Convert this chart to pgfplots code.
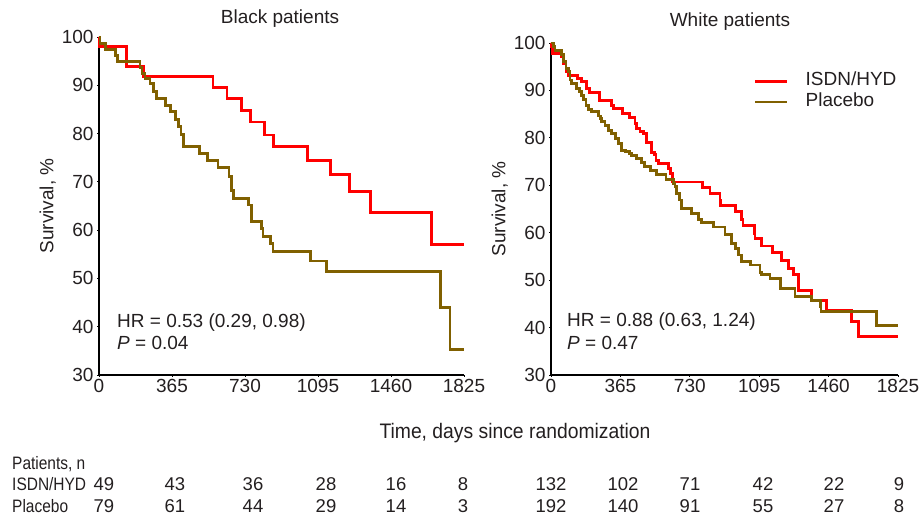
\documentclass[border=0pt]{standalone}
\usepackage{fontspec}
\setmainfont{Liberation Sans}
\newfontfamily\narrowfont[FakeStretch=0.86]{Liberation Sans}
\newfontfamily\timefont[FakeStretch=0.92]{Liberation Sans}
\usepackage{pgfplots}
\pgfplotsset{compat=1.18}
\definecolor{isdn}{RGB}{255,0,0}
\definecolor{plac}{RGB}{128,96,0}
\definecolor{txt}{RGB}{35,31,32}
\newcommand{\mf}{\fontsize{19}{22}\selectfont}

\pgfplotstableread{
d v
0 100
3 98.0
138 93.9
221 91.8
570 89.6
640 87.2
712 84.8
758 82.4
828 79.7
873 77.3
1044 74.5
1156 71.6
1252 68.0
1357 63.7
1663 57.1
1825 57.1
}\blackisdn

\pgfplotstableread{
d v
0 100
5 98.7
33 97.5
83 96.2
93 94.9
205 93.7
215 92.4
230 91.4
255 90.4
271 88.7
288 87.3
333 85.9
359 84.5
383 83.0
399 81.4
410 79.9
421 77.3
504 75.9
542 74.5
595 73.0
650 71.1
662 68.3
674 66.6
749 65.2
762 61.8
812 60.4
820 58.7
858 57.3
870 55.5
1056 53.6
1136 51.4
1707 44.0
1755 35.3
1825 35.3
}\blackplac

\pgfplotstableread{
d v
0 100
3 99.2
6 98.5
9 97.8
56 97.1
68 95.7
79 93.9
91 93.2
139 92.5
161 91.8
188 90.4
202 89.5
254 87.8
319 86.9
331 86.2
377 85.2
412 84.3
442 83.1
451 82.0
468 81.4
486 80.9
500 79.0
530 77.0
542 76.4
552 75.3
565 74.6
617 73.5
630 72.5
638 70.7
798 69.5
836 68.3
889 66.7
893 65.8
968 64.4
1003 62.7
1010 61.6
1068 59.9
1073 58.8
1108 57.2
1166 55.8
1213 54.2
1248 52.5
1275 51.1
1301 47.9
1371 45.8
1450 43.7
1581 41.2
1616 38.1
1825 38.1
}\whiteisdn

\pgfplotstableread{
d v
0 100
12 99.3
21 98.5
56 97.5
68 96.1
79 94.7
91 93.9
100 92.2
109 91.5
135 90.4
149 89.7
161 89.0
170 88.0
184 86.9
196 86.0
214 85.5
249 84.6
258 84.1
267 83.4
284 82.7
302 81.6
319 80.9
337 79.9
354 78.8
372 77.4
394 77.1
412 76.7
424 76.2
451 75.7
477 74.8
494 73.9
521 73.2
556 72.2
605 71.2
643 70.4
652 69.7
661 68.3
675 66.9
687 65.1
740 64.1
775 62.7
793 62.2
854 61.2
915 59.7
950 57.7
968 56.6
985 55.3
1003 54.0
1047 53.2
1099 51.7
1108 51.1
1152 50.4
1208 48.2
1283 46.5
1371 45.8
1415 44.4
1420 43.3
1713 40.5
1825 40.5
}\whiteplac

\pgfplotsset{kmaxis/.style={
  scale only axis, xmin=0, xmax=1825, ymin=30, ymax=100,
  axis lines=left, axis line style={-, line width=1.5pt, black},
  xtick={0,365,730,1095,1460,1825}, ytick={30,40,...,100},
  tick align=outside, major tick length=2pt,
  tick style={line width=0.8pt, black},
  ticklabel style={font=\mf, text=txt},
  xticklabel style={yshift=1pt},
  /pgf/number format/assume math mode=true,
  /pgf/number format/1000 sep={},
  ylabel={Survival, \%},
  ylabel style={font=\mf, text=txt, yshift=-1pt},
  clip=false,
  anchor=south west,
}}

\begin{document}
\begin{tikzpicture}[x=1pt,y=1pt]
\useasboundingbox (0,0) rectangle (921,519);

\begin{axis}[kmaxis, at={(99pt,144pt)}, width=365pt, height=338pt]
\addplot[const plot, color=isdn, line width=2.9pt] table[x=d,y=v] {\blackisdn};
\addplot[const plot, color=plac, line width=2.9pt] table[x=d,y=v] {\blackplac};
\end{axis}

\begin{axis}[kmaxis, at={(551pt,144pt)}, width=347pt, height=332pt,
  legend style={at={(rel axis cs:0.575,0.925)}, anchor=north west, draw=none, fill=none,
    font=\mf, text=txt, row sep=1pt,
    /tikz/every odd column/.append style={column sep=15pt}},
  legend cell align=left,
  legend image code/.code={\draw[#1] (0pt,-2pt) -- (32pt,-2pt);}]
\addplot[const plot, color=isdn, line width=2.9pt] table[x=d,y=v] {\whiteisdn};
\addlegendentry{ISDN/HYD}
\addplot[const plot, color=plac, line width=2.9pt] table[x=d,y=v] {\whiteplac};
\addlegendentry{Placebo}
\end{axis}

% titles
\node[font=\mf, text=txt] at (280,500) {Black patients};
\node[font=\mf, text=txt] at (730,497) {White patients};

% HR annotations
\node[font=\mf, text=txt, anchor=west, inner sep=0pt] at (117,196) {HR = 0.53 (0.29, 0.98)};
\node[font=\mf, text=txt, anchor=west, inner sep=0pt] at (117,176) {\textit{P} = 0.04};
\node[font=\mf, text=txt, anchor=west, inner sep=0pt] at (567,197) {HR = 0.88 (0.63, 1.24)};
\node[font=\mf, text=txt, anchor=west, inner sep=0pt] at (567,176) {\textit{P} = 0.47};

% x label
\node[font=\timefont\fontsize{21}{24}\selectfont, text=txt] at (515,86) {Time, days since randomization};

% at-risk table
\begin{scope}[every node/.style={font=\narrowfont\fontsize{18}{20}\selectfont, text=txt, inner sep=0pt}]
\node[anchor=west] at (12,55) {Patients, n};
\node[anchor=west] at (12,35) {ISDN/HYD};
\node[anchor=west] at (12,13) {Placebo};
\end{scope}
\begin{scope}[every node/.style={font=\fontsize{18.5}{20}\selectfont, text=txt, inner sep=0pt}]
\foreach \x/\n in {104/49,175/43,253/36,326/28,396/16,463/8,551/132,623/102,690/71,763/42,834/22,899/9}
  \node at (\x,35) {\n};
\foreach \x/\n in {104/79,175/61,253/44,326/29,396/14,463/3,551/192,623/140,690/91,763/55,834/27,899/8}
  \node at (\x,13) {\n};
\end{scope}
\end{tikzpicture}
\end{document}
